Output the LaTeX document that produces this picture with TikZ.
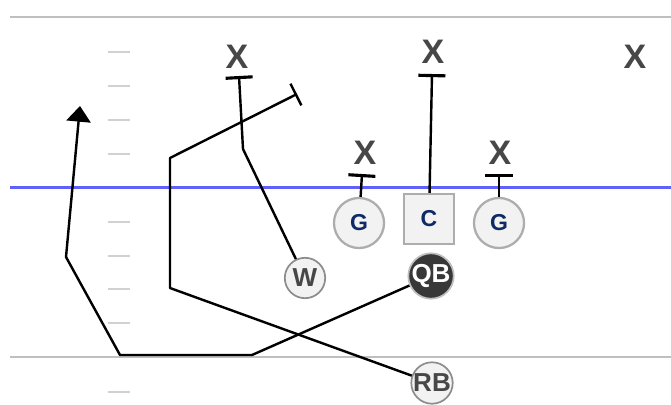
\documentclass[tikz,border=0pt]{standalone}
\usepackage{fontspec}
\setmainfont{Liberation Sans}
\usetikzlibrary{arrows.meta}

\definecolor{navy}{HTML}{0F2A66}
\definecolor{scrim}{RGB}{96,96,250}

\tikzset{
          yard/.style = {draw = #1, line width = 0.7mm},
          hash/.style = {draw = black!18, line width = 0.5mm},
          route/.style = {draw = black, line width = 0.85mm, line join = round},
          tee/.style = {-{Bar[width = 9.5mm, line width = 1.1mm]}},
          defender/.style = {text = black!72, font = \fontsize{34}{34}\selectfont\bfseries, inner sep = 0mm},
          player/.style = {circle, fill = #1, draw = black!45, line width = 0.6mm, minimum size = 14.2mm, inner sep = 0mm, font = \fontsize{26}{26}\selectfont\bfseries},
          lineman/.style = {#1, fill = black!5, draw = black!32, line width = 0.8mm, minimum size = 17.6mm, inner sep = 0mm, text = navy, font = \fontsize{23}{23}\selectfont\bfseries}
        }

\begin{document}
\begin{tikzpicture}[x=1pt,y=-1pt]
          \useasboundingbox (0,0) rectangle (671,404);

          % field
          \draw[yard=black!25] (10,17) -- (671,17);
          \draw[yard=black!25] (10,357) -- (671,357);
          \draw[draw=scrim, line width=0.75mm] (10,187.5) -- (671,187.5);

          \foreach \yi in {52,86,120,154,222,256,289,323,392}{
            \draw[hash] (108,\yi) -- (130,\yi);
          }

          % offense
          \node[lineman=circle] (gl) at (359,223) {G};
          \node[lineman=rectangle] (c) at (429,219) {C};
          \node[lineman=circle] (gr) at (499,223) {G};
          \node[player=black!78, text=white, draw=black!25] (qb) at (431,276) {QB};
          \node[player=black!5, text=black!72] (w) at (305,278) {W};
          \node[player=black!5, text=black!72] (rb) at (432,383) {RB};

          % defense
          \node[defender] (xl) at (237,57) {X};
          \node[defender] (xc) at (433,52) {X};
          \node[defender] (xr) at (635,57) {X};
          \node[defender] (xgl) at (365,153) {X};
          \node[defender] (xgr) at (500,153) {X};

          \coordinate (tl) at (239,76);
          \coordinate (tc) at (432,74);
          \coordinate (tgl) at (362,174);
          \coordinate (tgr) at (499,174);

          % blocks
          \draw[route, tee] (c) -- (tc);
          \draw[route, tee] (gl) -- (tgl);
          \draw[route, tee] (gr) -- (tgr);

          \coordinate (w1) at (243,149);
          \draw[route, tee] (w) -- (w1) -- (tl);

          % routes
          \coordinate (q1) at (252,355);
          \coordinate (q2) at (120,355);
          \coordinate (q3) at (66,257);
          \coordinate (q4) at (80,106);
          \draw[route, -{Triangle[width=8.5mm, length=5.5mm]}] (qb) -- (q1) -- (q2) -- (q3) -- (q4);

          \coordinate (r1) at (170,288);
          \coordinate (r2) at (170,158);
          \coordinate (r3) at (297,94);
          \draw[route, -{Bar[width=8.5mm]}] (rb) -- (r1) -- (r2) -- (r3);
        \end{tikzpicture}
\end{document}
